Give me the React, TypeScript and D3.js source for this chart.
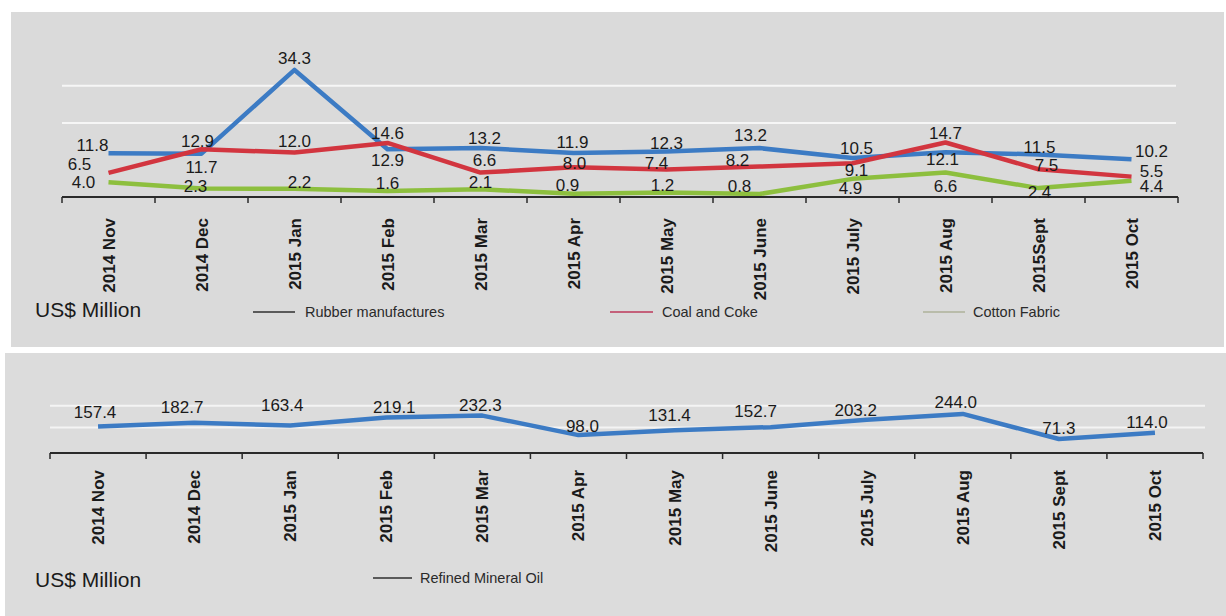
import React from "react";
import * as d3 from "d3";

const topMonths = ["2014 Nov", "2014 Dec", "2015 Jan", "2015 Feb", "2015 Mar", "2015 Apr", "2015 May", "2015 June", "2015 July", "2015 Aug", "2015Sept", "2015 Oct"];
const bottomMonths = ["2014 Nov", "2014 Dec", "2015 Jan", "2015 Feb", "2015 Mar", "2015 Apr", "2015 May", "2015 June", "2015 July", "2015 Aug", "2015 Sept", "2015 Oct"];

const rubber = [11.8, 11.7, 34.3, 12.9, 13.2, 11.9, 12.3, 13.2, 10.5, 12.1, 11.5, 10.2];
const coal = [6.5, 12.9, 12.0, 14.6, 6.6, 8.0, 7.4, 8.2, 9.1, 14.7, 7.5, 5.5];
const cotton = [4.0, 2.3, 2.2, 1.6, 2.1, 0.9, 1.2, 0.8, 4.9, 6.6, 2.4, 4.4];
const oil = [157.4, 182.7, 163.4, 219.1, 232.3, 98.0, 131.4, 152.7, 203.2, 244.0, 71.3, 114.0];

const topGrid = [20, 30];
const bottomGrid = [150, 300];

// label placement offsets [dx, dy] (layout only)
const rubberLbl = [[-16, -8], [0, 13], [0, -12], [0, 11], [4, -10], [-1, -11], [0, -9], [-9, -13], [4, -10], [-3, 7], [1, -8], [20, -8]];
const coalLbl = [[-29, -9], [-4, -8], [0, -12], [0, -10], [4, -13], [1, -4], [-10, -7], [-22, -7], [4, 7], [0, -10], [8, -4], [20, -6]];
const cottonLbl = [[-25, 0], [-6, -3], [5, -7], [0, -8], [0, -7], [-6, -9], [-4, -8], [-20, -8], [-2, 9], [0, 13], [1, 4], [20, 5]];
const oilLbl = [[-3, -15], [-12, -16], [-8, -21], [8, -11], [-2, -11], [4, -9], [-5, -15], [-15, -16], [-11, -10], [-7, -12], [0, -11], [-8, -11]];

const FONT = "'Liberation Sans', Arial, sans-serif";
const BLUE = "#3c7bc4";
const RED = "#d2353f";
const GREEN = "#8dbf3e";

export default function App() {
  const xTop = d3.scaleBand<string>().domain(topMonths).range([62, 1178]);
  const yTop = d3.scaleLinear().domain([0, 40]).range([197, 48.8]);
  const topAxisY = 197;

  const xBot = d3.scaleBand<string>().domain(bottomMonths).range([50, 1203]);
  const yBot = d3.scaleLinear().domain([0, 300]).range([449.3, 405.8]);
  const botAxisY = 453;

  const lineTop = (vals: number[]) =>
    d3.line<number>()
      .x((_, i) => (xTop(topMonths[i]) as number) + xTop.bandwidth() / 2)
      .y((d) => yTop(d))(vals) as string;
  const lineBot = (vals: number[]) =>
    d3.line<number>()
      .x((_, i) => (xBot(bottomMonths[i]) as number) + xBot.bandwidth() / 2)
      .y((d) => yBot(d))(vals) as string;

  const topSeries = [
    { vals: cotton, color: GREEN, lbl: cottonLbl },
    { vals: rubber, color: BLUE, lbl: rubberLbl },
    { vals: coal, color: RED, lbl: coalLbl },
  ];

  const topTicks = [...topMonths.map((m) => xTop(m) as number), 1178];
  const botTicks = [...bottomMonths.map((m) => xBot(m) as number), 1203];

  return (
    <svg width={1226} height={616} style={{ position: "absolute", left: 0, top: 0, background: "#ffffff" }} fontFamily={FONT}>
      <rect x={11} y={12} width={1213} height={335} fill="#dadada" />
      <rect x={5} y={353} width={1221} height={263} fill="#dcdcdc" />

      {/* ---------- TOP CHART ---------- */}
      {topGrid.map((g) => (
        <line key={g} x1={62} x2={1176} y1={yTop(g)} y2={yTop(g)} stroke="#f6f6f6" strokeWidth={2} />
      ))}
      {topSeries.map((s, k) => (
        <path key={k} d={lineTop(s.vals)} fill="none" stroke={s.color} strokeWidth={4.5} strokeLinejoin="round" strokeLinecap="butt" />
      ))}
      <line x1={62} x2={1178} y1={topAxisY} y2={topAxisY} stroke="#2a2a2a" strokeWidth={2} />
      {topTicks.map((t, i) => (
        <line key={i} x1={t} x2={t} y1={topAxisY} y2={topAxisY + 6} stroke="#2a2a2a" strokeWidth={1.5} />
      ))}
      {topSeries.map((s, k) =>
        s.vals.map((v, i) => (
          <text
            key={`${k}-${i}`}
            x={(xTop(topMonths[i]) as number) + xTop.bandwidth() / 2 + s.lbl[i][0]}
            y={yTop(v) + s.lbl[i][1]}
            dy="0.36em"
            textAnchor="middle"
            fontSize={17}
            fill="#1a1a1a"
          >
            {v.toFixed(1)}
          </text>
        ))
      )}
      {topMonths.map((m) => {
        const cx = (xTop(m) as number) + xTop.bandwidth() / 2;
        return (
          <text key={m} transform={`translate(${cx + 6},218) rotate(-90)`} textAnchor="end" fontSize={17} fontWeight="bold" fill="#1a1a1a">
            {m}
          </text>
        );
      })}
      <text x={35} y={317} fontSize={21} fill="#1a1a1a">US$ Million</text>
      <line x1={253} x2={295} y1={312} y2={312} stroke="#5a5a5a" strokeWidth={2} />
      <text x={305} y={317} fontSize={14.5} fill="#2a2a2a">Rubber manufactures</text>
      <line x1={610} x2={653} y1={312} y2={312} stroke="#c4607a" strokeWidth={2} />
      <text x={662} y={317} fontSize={14.5} fill="#2a2a2a">Coal and Coke</text>
      <line x1={923} x2={965} y1={312} y2={312} stroke="#b9bcaa" strokeWidth={2} />
      <text x={973} y={317} fontSize={14.5} fill="#2a2a2a">Cotton Fabric</text>

      {/* ---------- BOTTOM CHART ---------- */}
      {bottomGrid.map((g) => (
        <line key={g} x1={50} x2={1205} y1={yBot(g)} y2={yBot(g)} stroke="#f4f4f4" strokeWidth={2} />
      ))}
      <path d={lineBot(oil)} fill="none" stroke={BLUE} strokeWidth={4.5} strokeLinejoin="round" />
      <line x1={50} x2={1203} y1={botAxisY} y2={botAxisY} stroke="#2a2a2a" strokeWidth={2} />
      {botTicks.map((t, i) => (
        <line key={i} x1={t} x2={t} y1={botAxisY} y2={botAxisY + 6} stroke="#2a2a2a" strokeWidth={1.5} />
      ))}
      {oil.map((v, i) => (
        <text
          key={i}
          x={(xBot(bottomMonths[i]) as number) + xBot.bandwidth() / 2 + oilLbl[i][0]}
          y={yBot(v) + oilLbl[i][1]}
          dy="0.36em"
          textAnchor="middle"
          fontSize={17}
          fill="#1a1a1a"
        >
          {v.toFixed(1)}
        </text>
      ))}
      {bottomMonths.map((m) => {
        const cx = (xBot(m) as number) + xBot.bandwidth() / 2;
        return (
          <text key={m} transform={`translate(${cx + 6},470) rotate(-90)`} textAnchor="end" fontSize={17} fontWeight="bold" fill="#1a1a1a">
            {m}
          </text>
        );
      })}
      <text x={35} y={587} fontSize={21} fill="#1a1a1a">US$ Million</text>
      <line x1={373} x2={412} y1={578} y2={578} stroke="#5a5a5a" strokeWidth={2} />
      <text x={420} y={583} fontSize={14.5} fill="#2a2a2a">Refined Mineral Oil</text>
    </svg>
  );
}
